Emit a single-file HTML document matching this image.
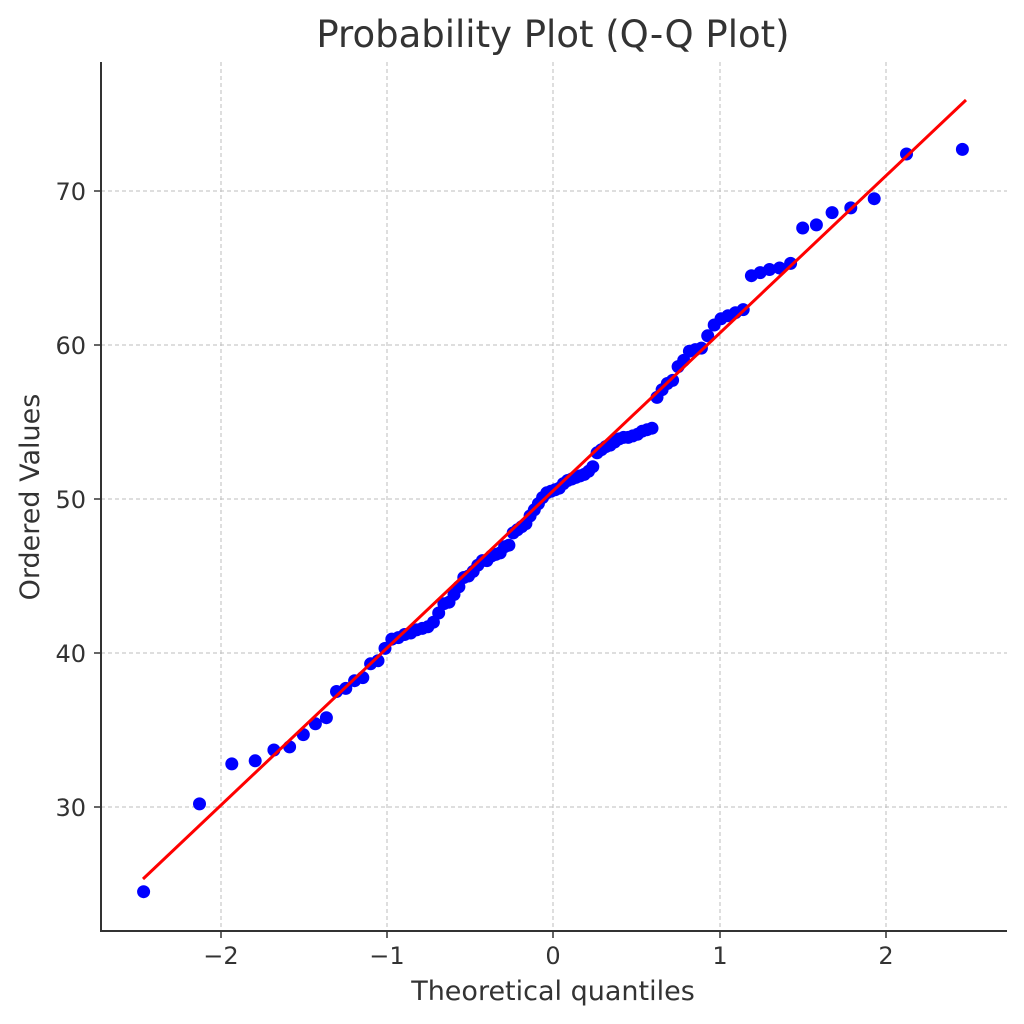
<!DOCTYPE html>
<html><head><meta charset="utf-8"><style>
html,body{margin:0;padding:0;background:#fff;}
svg{display:block;font-family:"DejaVu Sans","Liberation Sans",sans-serif;}
</style></head><body>
<svg id="s" width="1024" height="1024" viewBox="0 0 1024 1024" xmlns="http://www.w3.org/2000/svg">
<rect width="1024" height="1024" fill="#fff"/>
<g stroke="#bdbdbd" stroke-width="1" stroke-dasharray="4,3">
<line x1="221" y1="62" x2="221" y2="931"/><line x1="387" y1="62" x2="387" y2="931"/>
<line x1="553" y1="62" x2="553" y2="931"/><line x1="720" y1="62" x2="720" y2="931"/>
<line x1="886" y1="62" x2="886" y2="931"/>
<line x1="101" y1="191" x2="1007" y2="191"/><line x1="101" y1="345" x2="1007" y2="345"/>
<line x1="101" y1="499" x2="1007" y2="499"/><line x1="101" y1="653" x2="1007" y2="653"/>
<line x1="101" y1="807" x2="1007" y2="807"/>
</g>
<g id="pts" fill="#0000ff"></g>
<line x1="143" y1="879" x2="966" y2="100" stroke="#ff0000" stroke-width="3"/>
<g stroke="#333" stroke-width="2"><line x1="101" y1="62" x2="101" y2="932"/><line x1="100" y1="931" x2="1007" y2="931"/></g>
<g stroke="#333" stroke-width="1.5">
<line x1="221" y1="931" x2="221" y2="938"/><line x1="387" y1="931" x2="387" y2="938"/><line x1="553" y1="931" x2="553" y2="938"/><line x1="720" y1="931" x2="720" y2="938"/><line x1="886" y1="931" x2="886" y2="938"/>
<line x1="94" y1="191" x2="101" y2="191"/><line x1="94" y1="345" x2="101" y2="345"/><line x1="94" y1="499" x2="101" y2="499"/><line x1="94" y1="653" x2="101" y2="653"/><line x1="94" y1="807" x2="101" y2="807"/>
</g>
<g fill="#333" font-size="24" text-anchor="middle">
<text x="221" y="964">−2</text><text x="387" y="964">−1</text><text x="553" y="964">0</text><text x="720" y="964">1</text><text x="886" y="964">2</text>
</g>
<g fill="#333" font-size="24" text-anchor="end">
<text x="86" y="200">70</text><text x="86" y="354">60</text><text x="86" y="508">50</text><text x="86" y="662">40</text><text x="86" y="816">30</text>
</g>
<text x="553" y="1000" fill="#333" font-size="27" text-anchor="middle">Theoretical quantiles</text>
<text transform="translate(39,497) rotate(-90)" fill="#333" font-size="27" text-anchor="middle">Ordered Values</text>
<text x="553" y="47" fill="#333" font-size="37" text-anchor="middle">Probability Plot (Q-Q Plot)</text>
</svg>
<script>
var ys=[24.5,30.2,32.8,33.0,33.7,33.9,34.7,35.4,35.8,37.5,37.7,38.2,38.4,39.3,39.5,40.3,40.9,41.0,41.2,41.3,41.5,41.6,41.7,42.0,42.6,43.2,43.3,43.8,44.3,44.9,45.0,45.3,45.7,46.0,46.0,46.3,46.4,46.5,46.9,47.0,47.8,48.0,48.2,48.4,48.9,49.3,49.7,50.1,50.4,50.5,50.6,50.7,51.0,51.2,51.3,51.4,51.5,51.6,51.8,52.1,53.0,53.2,53.4,53.5,53.7,53.9,54.0,54.0,54.1,54.2,54.4,54.5,54.6,56.6,57.1,57.5,57.7,58.6,59.0,59.6,59.7,59.8,60.6,61.3,61.7,61.9,62.1,62.3,64.5,64.7,64.9,65.0,65.3,67.6,67.8,68.6,68.9,69.5,72.4,72.7];
function inv(p){var a=[-39.6968302866538,220.946098424521,-275.928510446969,138.357751867269,-30.6647980661472,2.50662827745924],b=[-54.4760987982241,161.585836858041,-155.698979859887,66.8013118877197,-13.2806815528857],c=[-0.00778489400243029,-0.322396458041136,-2.40075827716184,-2.54973253934373,4.37466414146497,2.93816398269878],d=[0.00778469570904146,0.32246712907004,2.445134137143,3.75440866190742];var q,r;if(p<0.02425){q=Math.sqrt(-2*Math.log(p));return(((((c[0]*q+c[1])*q+c[2])*q+c[3])*q+c[4])*q+c[5])/((((d[0]*q+d[1])*q+d[2])*q+d[3])*q+1);}if(p>1-0.02425){q=Math.sqrt(-2*Math.log(1-p));return-(((((c[0]*q+c[1])*q+c[2])*q+c[3])*q+c[4])*q+c[5])/((((d[0]*q+d[1])*q+d[2])*q+d[3])*q+1);}q=p-0.5;r=q*q;return(((((a[0]*r+a[1])*r+a[2])*r+a[3])*r+a[4])*r+a[5])*q/(((((b[0]*r+b[1])*r+b[2])*r+b[3])*r+b[4])*r+1);}
var n=ys.length,g=document.getElementById('pts'),h='';
for(var i=1;i<=n;i++){var m;if(i==n)m=Math.pow(0.5,1/n);else if(i==1)m=1-Math.pow(0.5,1/n);else m=(i-0.3175)/(n+0.365);
var x=553+166.3*inv(m),y=499-15.4*(ys[i-1]-50);h+='<circle cx="'+x.toFixed(1)+'" cy="'+y.toFixed(1)+'" r="6.5"/>';}
g.innerHTML=h;
</script>
</body></html>
